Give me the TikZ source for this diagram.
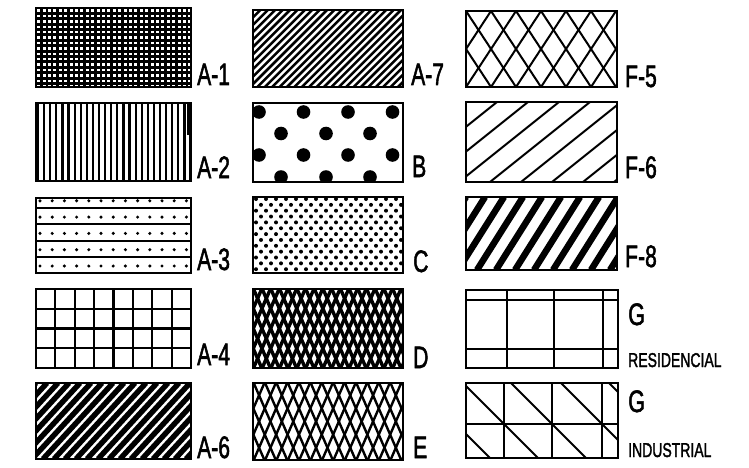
\documentclass[tikz,border=0pt]{standalone}
\usepackage{fontspec}
\setmainfont{Liberation Sans}
\newfontfamily\lblfont{Liberation Sans}[FakeBold=2]
% #1 x1, #2 y1, #3 x2, #4 y2, #5 horizontal run over the full height, #6 pitch, #7 width, #8 phase
\newcommand{\slashfill}[8]{%
  \begin{scope}
  \clip (#1,#2) rectangle (#3,#4);
  \pgfmathsetmacro{\sfa}{#1-#5-2*#6+#8}
  \pgfmathsetmacro{\sfb}{\sfa+#6}
  \foreach \sfx in {\sfa,\sfb,...,#3} \draw[line width=#7pt] (\sfx,#4) -- ++(#5,#2-#4);
  \end{scope}}
\newcommand{\backfill}[8]{%
  \begin{scope}
  \clip (#1,#2) rectangle (#3,#4);
  \pgfmathsetmacro{\sfa}{#1-#5-2*#6+#8}
  \pgfmathsetmacro{\sfb}{\sfa+#6}
  \foreach \sfx in {\sfa,\sfb,...,#3} \draw[line width=#7pt] (\sfx,#2) -- ++(#5,#4-#2);
  \end{scope}}
\begin{document}
\begin{tikzpicture}[x=1pt,y=-1pt]
\tikzset{
  boxframe/.style={line width=2.4pt},
  lbl/.style={anchor=base west,inner sep=0pt,font=\lblfont\fontsize{31}{31}\selectfont},
  sml/.style={anchor=base west,inner sep=0pt,font=\lblfont\fontsize{20}{20}\selectfont}}
\useasboundingbox (0,0) rectangle (749,468);

% ---------- A-1
\begin{scope}
\clip (36,8) rectangle (191,87);
\foreach \i in {0,...,29} \draw[line width=2.4pt] (36+5.4*\i,8) -- (36+5.4*\i,87);
\foreach \i in {0,...,15} \draw[line width=3pt] (36,8+5.4*\i) -- (191,8+5.4*\i);
\end{scope}
\draw[boxframe] (36,8) rectangle (191,87);
\node[lbl] (la1) at (197,85) {\scalebox{0.68}[1]{A-1}};

% ---------- A-2
\begin{scope}
\clip (36,103) rectangle (191,181);
\foreach \i in {0,...,25} \draw[line width=2.2pt] (38+6.1*\i,103) -- (38+6.1*\i,181);
\end{scope}
\draw[line width=3.5pt] (189,103) -- (189,135);
\draw[boxframe] (36,103) rectangle (191,181);
\node[lbl] (la2) at (197,178) {\scalebox{0.68}[1]{A-2}};

% ---------- A-3
\begin{scope}
\clip (36,198) rectangle (191,273);
\foreach \i in {0,...,3} \draw[line width=2pt] (36,208+16.3*\i) -- (191,208+16.3*\i);
\foreach \j in {0,...,4}
  \foreach \i in {0,...,12} \fill (40+12.2*\i,200.8+16.3*\j) circle (1.7pt);
\end{scope}
\draw[boxframe] (36,198) rectangle (191,273);
\node[lbl] (la3) at (197,270) {\scalebox{0.68}[1]{A-3}};

% ---------- A-4
\foreach \i in {1,...,7} \draw[line width=2.2pt] (36+19.375*\i,289) -- (36+19.375*\i,368);
\foreach \i in {1,...,3} \draw[line width=2.2pt] (36,289+19.75*\i) -- (191,289+19.75*\i);
\draw[boxframe] (36,289) rectangle (191,368);
\node[lbl] (la4) at (197,365) {\scalebox{0.68}[1]{A-4}};

% ---------- A-6
\slashfill{36}{383}{191}{459}{70}{11}{5.4}{0}
\draw[boxframe] (36,383) rectangle (191,459);
\node[lbl] (la6) at (197,458) {\scalebox{0.68}[1]{A-6}};

% ---------- A-7
\slashfill{253}{10}{403}{87}{77}{7.4}{2.5}{0}
\draw[boxframe] (253,10) rectangle (403,87);
\node[lbl] (la7) at (411,85) {\scalebox{0.68}[1]{A-7}};

% ---------- B
\begin{scope}
\clip (253,103) rectangle (403,182);
\foreach \y in {112,155} \foreach \x in {259,303.5,348,392.5} \fill (\x,\y) circle (6.8pt);
\foreach \y in {133.5,177} \foreach \x in {281,326,370} \fill (\x,\y) circle (6.8pt);
\end{scope}
\draw[boxframe] (253,103) rectangle (403,182);
\node[lbl] (lb) at (412,177) {\scalebox{0.68}[1]{B}};

% ---------- C
\begin{scope}
\clip (253,197) rectangle (403,273);
\foreach \r in {0,...,13}
  \foreach \i in {0,...,15} \fill ({256+5*mod(\r,2)+10*\i},{199+5.85*\r}) circle (2pt);
\end{scope}
\draw[boxframe] (253,197) rectangle (403,273);
\node[lbl] (lc) at (413,272) {\scalebox{0.68}[1]{C}};

% ---------- D
\slashfill{253}{289}{403}{368}{34.3}{8.7}{3.4}{0}
\backfill{253}{289}{403}{368}{34.3}{8.7}{3.4}{0}
\draw[boxframe] (253,289) rectangle (403,368);
\node[lbl] (ld) at (413,368) {\scalebox{0.68}[1]{D}};

% ---------- E
\slashfill{253}{383}{403}{460}{33.5}{11.4}{2.4}{0}
\backfill{253}{383}{403}{460}{33.5}{11.4}{2.4}{0}
\draw[boxframe] (253,383) rectangle (403,460);
\node[lbl] (le) at (413,458) {\scalebox{0.68}[1]{E}};

% ---------- F-5
\slashfill{466}{11}{617}{87}{50}{25}{2}{0}
\backfill{466}{11}{617}{87}{50}{25}{2}{0}
\draw[boxframe] (466,11) rectangle (617,87);
\node[lbl] (lf5) at (625,87) {\scalebox{0.68}[1]{F-5}};

% ---------- F-6
\slashfill{466}{102}{617}{182}{100}{31}{2}{0}
\draw[boxframe] (466,102) rectangle (617,182);
\node[lbl] (lf6) at (625,178) {\scalebox{0.68}[1]{F-6}};

% ---------- F-8
\slashfill{466}{197}{617}{270}{46}{19}{6.5}{0}
\draw[boxframe] (466,197) rectangle (617,270);
\node[lbl] (lf8) at (625,267) {\scalebox{0.68}[1]{F-8}};

% ---------- G residencial
\foreach \x in {507,554,603} \draw[line width=2.2pt] (\x,290) -- (\x,368);
\foreach \y in {300,349} \draw[line width=2.2pt] (466,\y) -- (618,\y);
\draw[boxframe] (466,290) rectangle (618,368);
\node[lbl] (lg1) at (628,325) {\scalebox{0.7}[1]{G}};
\node[sml] (lres) at (628,367) {\scalebox{0.7}[1]{RESIDENCIAL}};

% ---------- G industrial
\begin{scope}
\clip (466,383) rectangle (618,458);
\foreach \x in {456,504,552,602,650} \draw[line width=2pt] (\x-41,383) -- (\x+34,458);
\end{scope}
\foreach \x in {504,552,602} \draw[line width=2.2pt] (\x,383) -- (\x,458);
\draw[line width=2.2pt] (466,424) -- (618,424);
\draw[boxframe] (466,383) rectangle (618,458);
\node[lbl] (lg2) at (628,412) {\scalebox{0.7}[1]{G}};
\node[sml] (lind) at (628,457) {\scalebox{0.7}[1]{INDUSTRIAL}};
\end{tikzpicture}
\end{document}
